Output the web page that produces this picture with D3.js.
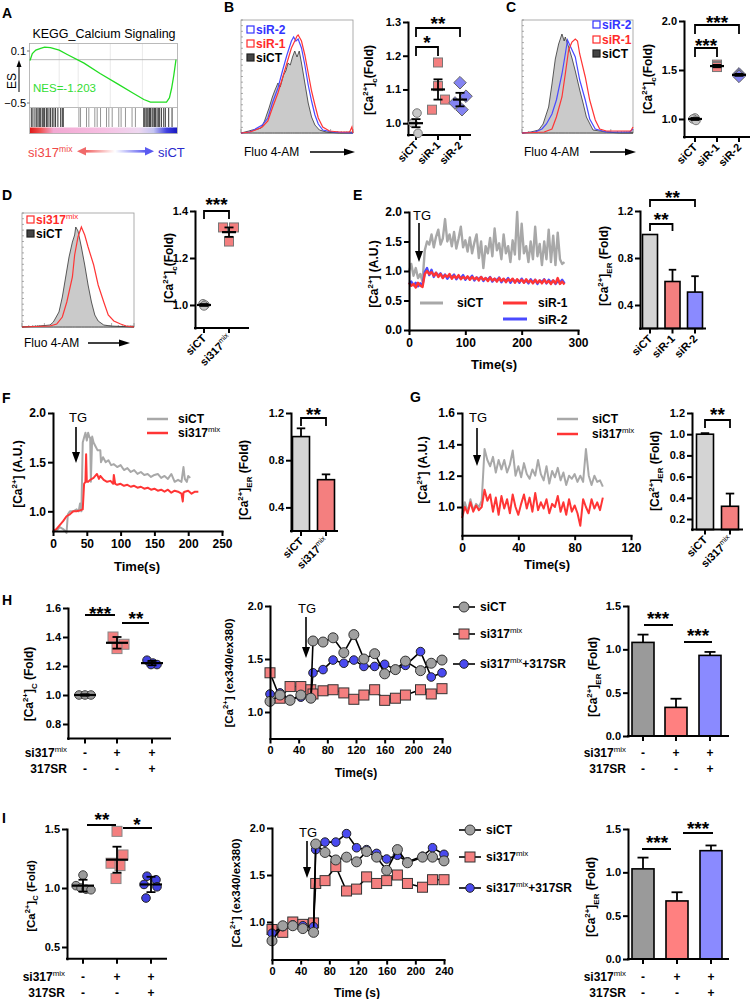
<!DOCTYPE html>
<html><head><meta charset="utf-8">
<script src="https://cdnjs.cloudflare.com/ajax/libs/d3/7.8.5/d3.min.js"></script>
<style>html,body{margin:0;padding:0;background:#fff}</style>
</head><body>
<svg id="fig" width="753" height="999" xmlns="http://www.w3.org/2000/svg"></svg>
<script>
// ===================== DATA =====================
// Panel A (GSEA)
const esRank  = [0,0.016,0.04,0.073,0.1,0.14,0.2,0.255,0.37,0.48,0.6,0.71,0.78,0.825,0.89,0.935,0.955,0.97,0.985,1.0];
const esValue = [-0.01,0.07,0.11,0.13,0.145,0.14,0.11,0.06,-0.04,-0.16,-0.28,-0.39,-0.46,-0.49,-0.49,-0.49,-0.44,-0.33,-0.18,0.0];
const esHits  = [0.009,0.02,0.034,0.046,0.055,0.064,0.073,0.084,0.091,0.1,0.112,0.118,0.13,0.141,0.153,0.164,0.175,0.191,0.21,0.221,0.228,0.335,0.346,0.387,0.403,0.444,0.46,0.483,0.524,0.54,0.563,0.608,0.624,0.654,0.699,0.722,0.779,0.786,0.795,0.802,0.809,0.818,0.825,0.836,0.843,0.852,0.859,0.87,0.879,0.888,0.9,0.916,0.927,0.95,0.973];
const esTicks = [0.1,-0.5];
const nesText = "NES=-1.203";

// Panel B
const histB_siCT = [[0,0],[7,2],[10,3],[15,4],[18,5],[21,12],[25,25],[28,36],[30,42],[33,50],[35,46],[38,58],[40,62],[42,70],[44,68],[46,76],[48,82],[50,76],[52,82],[54,70],[57,50],[60,30],[63,16],[66,8],[70,3],[76,1],[88,0],[100,0]];
const histB_siR1 = [[0,0],[8,1],[13,3],[19,6],[24,12],[28,25],[33,40],[37,55],[41,70],[45,85],[48,92],[50,97],[51,98],[54,92],[57,78],[60,60],[63,42],[66,28],[69,15],[73,6],[79,2],[88,1],[97,1],[99,6],[100,0]];
const histB_siR2 = [[0,0],[8,1],[19,8],[24,15],[28,30],[33,45],[37,62],[41,78],[45,92],[47,96],[49,92],[51,94],[54,85],[57,68],[60,48],[63,32],[66,18],[69,9],[73,3],[82,1],[100,0]];
const catsB = ["siCT","siR-1","siR-2"];
const B_siCT = [1.03,1.0,0.97];
const B_siR1 = [1.18,1.11,1.07,1.04];
const B_siR2 = [1.12,1.08,1.06,1.04];
const B_mean = [1.0,1.10,1.07];
const B_sem  = [0.012,0.03,0.02];

// Panel C
const histC_siCT = [[0,0],[8,1],[15,3],[19,9],[24,26],[27,49],[30,74],[33,89],[36,99],[38,92],[39,96],[42,86],[45,75],[48,62],[52,43],[55,30],[58,16],[64,3],[76,1],[88,0],[100,0]];
const histC_siR1 = [[0,0],[20,1],[27,4],[31,16],[36,36],[39,59],[42,83],[45,91],[48,94],[50,92],[52,79],[57,56],[61,33],[66,13],[70,4],[76,2],[98,2],[100,6]];
const histC_siR2 = [[0,0],[12,1],[18,4],[22,9],[27,19],[31,33],[36,59],[39,79],[41,93],[43,88],[48,76],[52,53],[57,33],[61,14],[66,4],[76,1],[97,1],[100,4]];
const catsC = ["siCT","siR-1","siR-2"];
const C_siCT = [1.01,1.0,0.985];
const C_siR1 = [1.555,1.54,1.53];
const C_siR2 = [1.46,1.45,1.435];
const C_mean = [1.0,1.54,1.45];
const C_sem  = [0.01,0.012,0.01];

// Panel D
const histD_siCT = [[0,0],[16,1],[25,2],[28,5],[33,15],[36,30],[39,50],[42,70],[45,85],[47,92],[48,100],[50,96],[53,80],[56,62],[59,42],[62,25],[65,12],[68,6],[73,2],[79,1],[100,0]];
const histD_mix  = [[0,0],[25,1],[31,3],[36,10],[40,25],[45,50],[47,72],[50,90],[53,100],[56,92],[59,80],[64,62],[68,42],[73,25],[77,12],[82,6],[88,3],[93,1],[100,0]];
const D_siCT = [1.005,1.0,0.996];
const D_mix  = [1.33,1.33,1.27];
const D_mean = [1.0,1.31];
const D_sem  = [0.004,0.02];

// Panel E
const E_time = [0,4,8,12,16,20,24,28,32,36,40,44,48,52,56,60,64,68,72,76,80,84,88,92,96,100,104,108,112,116,120,124,128,132,136,140,144,148,152,156,160,164,168,172,176,180,184,188,192,196,200,204,208,212,216,220,224,228,232,236,240,244,248,252,256,260,264,268,272,276];
const E_siCT = [1.0,1.12,0.92,1.05,0.88,0.95,0.82,1.35,1.5,1.45,1.62,1.4,1.58,1.7,1.45,1.55,1.88,1.5,1.62,1.42,1.66,1.38,1.55,1.75,1.4,1.52,1.33,1.57,1.3,1.48,1.62,1.22,1.5,1.05,1.42,1.3,1.56,1.25,1.72,1.35,1.47,1.2,1.62,1.3,1.42,1.15,1.52,1.28,2.0,1.2,1.8,1.3,1.42,1.15,1.5,1.2,1.75,1.25,1.46,1.1,1.5,1.2,1.7,1.15,1.6,1.1,1.65,1.2,1.12,1.15];
const E_siR1 = [0.8,0.75,0.78,0.72,0.8,0.75,0.73,0.95,1.0,0.95,0.98,0.92,0.97,0.9,0.95,0.88,0.93,0.9,0.95,0.87,0.92,0.88,0.93,0.86,0.9,0.87,0.91,0.85,0.9,0.86,0.89,0.84,0.9,0.85,0.88,0.83,0.89,0.84,0.87,0.82,0.88,0.83,0.87,0.81,0.86,0.83,0.87,0.8,0.86,0.82,0.85,0.8,0.86,0.81,0.84,0.79,0.85,0.8,0.84,0.79,0.85,0.8,0.83,0.78,0.84,0.79,0.88,0.78,0.82,0.77];
const E_siR2 = [0.78,0.82,0.76,0.8,0.74,0.79,0.76,0.98,1.05,0.93,1.02,0.9,0.97,0.92,0.96,0.89,0.94,0.87,0.92,0.9,0.94,0.86,0.91,0.88,0.93,0.85,0.9,0.87,0.92,0.84,0.89,0.86,0.9,0.83,0.88,0.85,0.9,0.82,0.87,0.84,0.89,0.81,0.86,0.83,0.88,0.8,0.86,0.82,0.85,0.8,0.87,0.81,0.84,0.79,0.86,0.8,0.85,0.78,0.84,0.81,0.86,0.79,0.85,0.8,0.84,0.78,0.83,0.8,0.85,0.79];
const catsE = ["siCT","siR-1","siR-2"];
const E_bar = [1.0,0.6,0.51];
const E_err = [0,0.1,0.135];

// Panel F
const F_timeCT = [0,5,10,15,18,20,22,25,30,35,38,40,42,44,46,48,50,52,54,55,56,58,60,63,66,70,71,74,78,82,86,90,95,100,105,110,115,120,125,130,135,140,145,150,155,160,165,170,175,180,185,190,193,195,198,200,203];
const F_siCT   = [0.8,0.8,0.84,0.82,0.8,0.78,0.97,1.0,1.0,1.02,1.0,1.08,1.0,1.7,1.75,1.8,1.72,1.8,1.75,1.75,1.3,1.76,1.7,1.66,1.62,1.62,1.5,1.55,1.5,1.52,1.47,1.48,1.45,1.47,1.42,1.44,1.4,1.42,1.38,1.4,1.37,1.38,1.35,1.37,1.38,1.34,1.36,1.33,1.38,1.3,1.32,1.3,1.45,1.33,1.3,1.36,1.34];
const F_timeMix = [0,5,10,15,20,25,30,35,40,44,46,48,49,50,52,55,60,65,68,70,75,80,85,89,90,92,95,100,105,110,115,120,125,130,135,140,145,150,155,160,165,170,175,180,185,190,192,193,195,200,205,210,215];
const F_mix     = [0.8,0.82,0.86,0.9,0.95,0.97,1.0,1.0,1.01,1.02,1.28,1.3,1.58,1.3,1.3,1.32,1.34,1.38,1.33,1.36,1.32,1.3,1.31,1.28,1.37,1.28,1.27,1.28,1.26,1.27,1.25,1.26,1.24,1.25,1.23,1.24,1.22,1.23,1.21,1.22,1.2,1.22,1.19,1.21,1.2,1.18,1.1,1.19,1.2,1.21,1.18,1.2,1.2];
const catsF = ["siCT","si317mix"];
const F_bar = [1.0,0.635];
const F_err = [0.07,0.045];

// Panel G
const G_time = [0,2,4,6,8,10,12,14,16,18,20,22,24,26,28,30,32,34,36,38,40,42,44,46,48,50,52,54,56,58,60,62,64,66,68,70,72,74,76,78,80,82,84,86,88,90,92,94,96,98,100];
const G_siCT = [0.95,1.03,0.97,1.05,0.98,1.02,1.0,1.04,1.37,1.3,1.26,1.32,1.22,1.3,1.24,1.3,1.22,1.27,1.36,1.2,1.26,1.19,1.28,1.21,1.18,1.24,1.2,1.3,1.21,1.17,1.26,1.15,1.23,1.19,1.25,1.17,1.22,1.14,1.2,1.18,1.21,1.16,1.2,1.16,1.37,1.2,1.14,1.2,1.16,1.17,1.13];
const G_mix  = [0.93,1.0,0.96,1.03,0.97,1.01,0.98,1.0,1.11,1.04,1.08,0.97,1.06,0.95,1.07,0.99,1.05,0.96,1.08,1.0,0.95,1.02,1.08,0.99,1.06,0.97,1.09,0.98,1.03,0.99,1.05,0.96,1.02,1.0,1.07,0.97,1.03,0.95,1.05,0.97,1.01,0.96,0.88,1.05,1.0,0.96,1.05,0.99,1.03,0.98,1.06];
const G_bar = [1.0,0.32];
const G_err = [0.01,0.12];

// Panel H
const rowsSi317 = ["-","+","+"];
const rows317SR = ["-","-","+"];
const H_siCT = [1.0,1.0,1.0];
const H_mix  = [1.40,1.35,1.32];
const H_SR   = [1.24,1.22,1.21,1.21];
const H_mean = [1.0,1.36,1.22];
const H_sd   = [0.005,0.04,0.015];
const H_time = [0,14,28,43,57,60,74,88,103,117,131,146,160,175,189,210,225,240];
const H_lineCT  = [1.10,1.16,1.11,1.16,1.13,1.67,1.66,1.70,1.56,1.73,1.50,1.55,1.36,1.40,1.48,1.39,1.46,1.49];
const H_lineMix = [1.37,1.13,1.24,1.24,1.21,1.17,1.20,1.21,1.18,1.12,1.16,1.21,1.11,1.13,1.16,1.21,1.17,1.22];
const H_lineSR  = [1.17,1.18,1.12,1.14,1.13,1.37,1.40,1.49,1.46,1.49,1.43,1.43,1.45,1.40,1.44,1.57,1.33,1.37];
const H_bar = [1.08,0.33,0.93];
const H_err = [0.09,0.10,0.04];

// Panel I
const I_siCT = [1.11,1.02,1.0,0.99,0.985];
const I_mix  = [1.48,1.28,1.21,1.19,1.08];
const I_SR   = [1.10,1.07,1.03,1.01,0.915];
const I_mean = [1.02,1.24,1.03];
const I_sd   = [0.05,0.11,0.065];
const I_time = [0,15,29,43,58,61,74,89,104,118,132,146,160,175,189,210,224,240];
const I_lineCT  = [0.80,0.96,0.96,0.93,0.89,1.83,1.74,1.66,1.69,1.64,1.75,1.69,1.55,1.77,1.63,1.69,1.69,1.65];
const I_lineMix = [0.92,0.89,1.0,0.975,0.99,1.41,1.44,1.59,1.33,1.35,1.48,1.41,1.44,1.50,1.41,1.37,1.45,1.45];
const I_lineSR  = [0.88,0.95,0.97,0.96,0.95,1.77,1.85,1.85,1.94,1.79,1.77,1.73,1.67,1.71,1.64,1.70,1.79,1.72];
const I_bar = [1.04,0.67,1.25];
const I_err = [0.13,0.10,0.06];

// ===================== STYLE / HELPERS =====================
const FONT = "'Liberation Sans', Arial, Helvetica, sans-serif";
const C_RED = "#f47f7f", C_BLUE = "#8a8aff", C_LGRAY = "#d4d4d4", C_DGRAY = "#9a9a9a";
const T_GRAY = "#a8a8a8", T_RED = "#ff3535", T_BLUE = "#4a4aff";
const svg = d3.select("#fig");
const defs = svg.append("defs");

function rich(t, parts, size) {
  let cur = 0;
  parts.forEach(p => {
    const [s, k, w] = p;
    const target = k === "sup" ? -size * 0.4 : (k === "sub" ? size * 0.3 : 0);
    const ts = t.append("tspan").attr("dy", target - cur).text(s);
    if (k !== "n") ts.attr("font-size", size * 0.66);
    if (w) ts.attr("font-weight", w);
    cur = target;
  });
}
function txt(x, y, s, o = {}) {
  const size = o.size || 11;
  const t = svg.append("text").attr("x", x).attr("y", y).attr("font-family", FONT)
    .attr("font-size", size).attr("font-weight", o.weight || "bold")
    .attr("fill", o.fill || "#000").attr("text-anchor", o.anchor || "start");
  if (o.rotate) t.attr("transform", `rotate(${o.rotate},${x},${y})`);
  if (typeof s === "string") t.text(s); else rich(t, s, size);
  return t;
}
function ln(x1, y1, x2, y2, w = 2, c = "#000") {
  return svg.append("line").attr("x1", x1).attr("y1", y1).attr("x2", x2).attr("y2", y2)
    .attr("stroke", c).attr("stroke-width", w);
}
function styleAx(g, fs) {
  g.select(".domain").attr("stroke", "#000").attr("stroke-width", 2).attr("stroke-linecap", "square");
  g.selectAll(".tick line").attr("stroke", "#000").attr("stroke-width", 2);
  g.selectAll(".tick text").attr("font-family", FONT).attr("font-weight", "bold").attr("font-size", fs).attr("fill", "#000");
}
function yAx(sc, x, ticks, fmt, fs = 11) {
  const g = svg.append("g").attr("transform", `translate(${x},0)`)
    .call(d3.axisLeft(sc).tickValues(ticks).tickFormat(d3.format(fmt)).tickSize(5).tickSizeOuter(0).tickPadding(2));
  styleAx(g, fs);
}
function xAxNum(sc, y, ticks, fs = 12) {
  const g = svg.append("g").attr("transform", `translate(0,${y})`)
    .call(d3.axisBottom(sc).tickValues(ticks).tickFormat(d3.format("d")).tickSize(5).tickSizeOuter(0).tickPadding(3));
  styleAx(g, fs);
}
const mixLabel = (size) => [["si317", "n"], ["mix", "sup", "normal"]];
function catAx(x0, x1, y, xs, labels, fs = 11) {
  ln(x0, y, x1, y, 2).attr("stroke-linecap", "square");
  xs.forEach((x, i) => {
    ln(x, y, x, y + 5, 2);
    if (labels) {
      const lab = labels[i] === "si317mix" ? mixLabel() : labels[i];
      txt(x + 3, y + 11, lab, { anchor: "end", rotate: -45, size: fs });
    }
  });
}
function marks(shape, cx, vals, ysc, offs, st) {
  vals.forEach((v, i) => {
    const x = cx + (offs ? offs[i] : 0), y = ysc(v);
    let el;
    if (shape === "circle") el = svg.append("circle").attr("cx", x).attr("cy", y).attr("r", st.r);
    else if (shape === "square") el = svg.append("rect").attr("x", x - st.s / 2).attr("y", y - st.s / 2).attr("width", st.s).attr("height", st.s);
    else { const h = st.s * 0.7; el = svg.append("path").attr("d", `M${x},${y - h}L${x + h},${y}L${x},${y + h}L${x - h},${y}Z`); }
    el.attr("fill", st.fill).attr("stroke", st.stroke).attr("stroke-width", st.sw || 1);
  });
}
function meanErr(cx, m, e, ysc, hw = 7, cw = 4.5) {
  ln(cx, ysc(m - e), cx, ysc(m + e), 1.8);
  ln(cx - cw, ysc(m + e), cx + cw, ysc(m + e), 1.8);
  ln(cx - cw, ysc(m - e), cx + cw, ysc(m - e), 1.8);
  ln(cx - hw, ysc(m), cx + hw, ysc(m), 2.2);
}
function bars(xs, vals, errs, ysc, w, fills) {
  const y0 = ysc.range()[0];
  vals.forEach((v, i) => {
    if (errs[i] > 0) {
      ln(xs[i], ysc(v), xs[i], ysc(v + errs[i]), 1.8);
      ln(xs[i] - w * 0.25, ysc(v + errs[i]), xs[i] + w * 0.25, ysc(v + errs[i]), 1.8);
    }
    svg.append("rect").attr("x", xs[i] - w / 2).attr("y", ysc(v)).attr("width", w).attr("height", y0 - ysc(v))
      .attr("fill", fills[i]).attr("stroke", "#000").attr("stroke-width", 1.6);
  });
}
function bracket(x1, x2, y, drop) {
  svg.append("path").attr("d", `M${x1},${y + drop}V${y}H${x2}V${y + drop}`)
    .attr("fill", "none").attr("stroke", "#000").attr("stroke-width", 1.8);
}
function stars(cx, cy, s, size = 19) {
  txt(cx, cy + size * 0.56, s, { anchor: "middle", size: size });
}
function trace(ts, vs, xs, ys, color, w) {
  const n = Math.min(ts.length, vs.length);
  const pts = d3.range(n).map(i => [xs(ts[i]), ys(vs[i])]);
  svg.append("path").attr("d", d3.line()(pts)).attr("fill", "none").attr("stroke", color)
    .attr("stroke-width", w).attr("stroke-linejoin", "round");
}
function downArrow(x, y1, y2) {
  ln(x, y1, x, y2 - 9, 1.6);
  svg.append("path").attr("d", `M${x - 4},${y2 - 11}L${x + 4},${y2 - 11}L${x},${y2}Z`).attr("fill", "#000");
}
function rightArrow(x1, x2, y) {
  ln(x1, y, x2 - 9, y, 1.5);
  svg.append("path").attr("d", `M${x2 - 11},${y - 3.5}L${x2 - 11},${y + 3.5}L${x2},${y}Z`).attr("fill", "#000");
}
function histBox(x0, y0, x1, y1) {
  svg.append("rect").attr("x", x0).attr("y", y0).attr("width", x1 - x0).attr("height", y1 - y0)
    .attr("fill", "none").attr("stroke", "#999").attr("stroke-width", 0.8);
  const ly = d3.scaleLinear().domain([0, 1]).range([y1, y0]);
  ly.ticks(20).forEach(t => ln(x0, ly(t), x0 + 2, ly(t), 0.6, "#777"));
  const lx = d3.scaleLog().domain([1, 1e5]).range([x0, x1]);
  lx.ticks().forEach(t => {
    const major = Math.abs(Math.log10(t) - Math.round(Math.log10(t))) < 1e-9;
    ln(lx(t), y1, lx(t), y1 - (major ? 4 : 2), 0.6, "#777");
  });
}
function histArea(pairs, xs, bottom) {
  svg.append("path").datum(pairs)
    .attr("d", d3.area().x(d => xs(d[0])).y0(bottom).y1(d => bottom - d[1]))
    .attr("fill", "#cacaca").attr("stroke", "#333").attr("stroke-width", 0.8);
}
function histLine(pairs, xs, bottom, color) {
  svg.append("path").datum(pairs)
    .attr("d", d3.line().x(d => xs(d[0])).y(d => bottom - d[1]))
    .attr("fill", "none").attr("stroke", color).attr("stroke-width", 1.2);
}
function histLegend(x, y, label, color, filled) {
  svg.append("rect").attr("x", x).attr("y", y - 8).attr("width", 7).attr("height", 7)
    .attr("fill", filled ? "#444" : "#fff").attr("stroke", filled ? "#222" : color).attr("stroke-width", 1.2);
  txt(x + 9, y, label, { size: 12, fill: color });
}
function panelLabel(x, y, s) { txt(x, y, s, { size: 14 }); }
const caLabel = (sub) => [["[Ca", "n"], ["2+", "sup"], ["]", "n"], [sub, "sub"], [sub === "c" ? "(Fold)" : " (Fold)", "n"]];

// ===================== PANEL A =====================
panelLabel(2, 18, "A");
{
  const x = d3.scaleLinear().domain([0, 1]).range([30, 176]);
  const y = d3.scaleLinear().domain([-0.5, 0.1]).range([103, 51]);
  txt(104, 38, "KEGG_Calcium Signaling", { anchor: "middle", weight: "normal", size: 12.5 });
  [0.2, 0.33, 0.55, 0.77].forEach(f => ln(x(f), 43.5, x(f), 107, 0.8, "#e4e4e4"));
  ln(29.5, y(0), 177.5, y(0), 0.8, "#aaa");
  const grad = defs.append("linearGradient").attr("id", "gA");
  [[0, "#e01818"], [0.07, "#f05050"], [0.16, "#f2a8d2"], [0.5, "#f6bfe2"], [0.74, "#eed8f0"], [0.84, "#c4c4f2"], [0.93, "#4040e0"], [1, "#1818c0"]]
    .forEach(s => grad.append("stop").attr("offset", s[0]).attr("stop-color", s[1]));
  svg.append("rect").attr("x", 30).attr("y", 127.5).attr("width", 147).attr("height", 6).attr("fill", "url(#gA)");
  esHits.forEach(p => ln(x(p), 108, x(p), 127, 0.9, (p > 0.25 && p < 0.76) ? "#8a8a8a" : "#222"));
  svg.append("rect").attr("x", 29.5).attr("y", 43.5).attr("width", 148).attr("height", 90)
    .attr("fill", "none").attr("stroke", "#aaa").attr("stroke-width", 0.8);
  ln(29.5, 107.5, 177.5, 107.5, 0.8, "#aaa");
  const pts = esRank.map((r, i) => [x(r), y(esValue[i])]);
  svg.append("path").attr("d", d3.line()(pts)).attr("fill", "none").attr("stroke", "#22dd22").attr("stroke-width", 1.3);
  esTicks.forEach(t => { txt(26, y(t) + 4, d3.format(".1f")(t), { anchor: "end", weight: "normal", size: 11 }); ln(27, y(t), 29.5, y(t), 0.8, "#555"); });
  txt(15.5, 81, "ES", { anchor: "middle", rotate: -90, weight: "normal", size: 12 });
  ln(19, 92, 19, 66, 1, "#000");
  svg.append("path").attr("d", "M16.5,67L21.5,67L19,60Z").attr("fill", "#000");
  txt(33, 92, nesText, { weight: "normal", size: 11.5, fill: "#33dd33" });
  txt(28, 157, [["si317", "n"], ["mix", "sup"]], { weight: "normal", size: 13, fill: "#f04848" });
  const g2 = defs.append("linearGradient").attr("id", "gArr");
  [[0, "#f05a5a"], [0.5, "#ffffff"], [1, "#5a5af0"]].forEach(s => g2.append("stop").attr("offset", s[0]).attr("stop-color", s[1]));
  svg.append("rect").attr("x", 84).attr("y", 150).attr("width", 62).attr("height", 2.6).attr("fill", "url(#gArr)");
  svg.append("path").attr("d", "M77,151.3L86,147L86,155.6Z").attr("fill", "#f06a6a");
  svg.append("path").attr("d", "M154,151.3L145,147L145,155.6Z").attr("fill", "#5a5af0");
  txt(158, 157, "siCT", { weight: "normal", size: 13, fill: "#2a2acc" });
}

// ===================== PANEL B =====================
panelLabel(224, 12, "B");
{
  const hx = d3.scaleLinear().domain([0, 100]).range([241, 353]);
  histBox(241, 20, 353, 133);
  histArea(histB_siCT, hx, 133);
  histLine(histB_siR2, hx, 133, T_BLUE);
  histLine(histB_siR1, hx, 133, T_RED);
  histLegend(247, 34, "siR-2", "#3333ff", false);
  histLegend(247, 48, "siR-1", "#ff2a2a", false);
  histLegend(247, 62, "siCT", "#000", true);
  txt(244, 156, "Fluo 4-AM", { weight: "normal", size: 12 });
  rightArrow(310, 355, 152);

  const y = d3.scaleLinear().domain([0.965, 1.3]).range([135, 22]);
  const x = d3.scalePoint().domain(catsB).range([416, 460]);
  yAx(y, 408, [1.0, 1.1, 1.2, 1.3], ".1f");
  catAx(408, 470, 135, catsB.map(x), catsB);
  txt(373, 80, caLabel("c"), { anchor: "middle", rotate: -90, size: 12 });
  marks("circle", x("siCT"), B_siCT, y, [1, -3, 2], { r: 4.3, fill: "#c8c8c8", stroke: "#777" });
  marks("square", x("siR-1"), B_siR1, y, [0, 0, 7, -6], { s: 9, fill: C_RED, stroke: "#777" });
  marks("diamond", x("siR-2"), B_siR2, y, [0, 6, -5, 2], { s: 9, fill: "#8484f2", stroke: "#666" });
  catsB.forEach((c, i) => meanErr(x(c), B_mean[i], B_sem[i], y));
  bracket(x("siCT"), x("siR-1"), 47, 9);
  stars((x("siCT") + x("siR-1")) / 2, 38, "*");
  bracket(x("siCT"), x("siR-2"), 28, 9);
  stars((x("siCT") + x("siR-2")) / 2, 19, "**");
}

// ===================== PANEL C =====================
panelLabel(506, 12, "C");
{
  const hx = d3.scaleLinear().domain([0, 100]).range([522, 633]);
  histBox(522, 20, 633, 133);
  histArea(histC_siCT, hx, 133);
  histLine(histC_siR2, hx, 133, T_BLUE);
  histLine(histC_siR1, hx, 133, T_RED);
  histLegend(593, 29, "siR-2", "#3333ff", false);
  histLegend(593, 44, "siR-1", "#ff2a2a", false);
  histLegend(593, 58, "siCT", "#000", true);
  txt(524, 156, "Fluo 4-AM", { weight: "normal", size: 12 });
  rightArrow(590, 636, 152);

  const y = d3.scaleLinear().domain([0.816, 2.0]).range([137, 21]);
  const x = d3.scalePoint().domain(catsC).range([695, 739]);
  yAx(y, 684, [1.0, 1.5, 2.0], ".1f");
  catAx(684, 749, 137, catsC.map(x), catsC);
  txt(652, 79, caLabel("c"), { anchor: "middle", rotate: -90, size: 12 });
  marks("circle", x("siCT"), C_siCT, y, [0, -2, 1], { r: 4.3, fill: "#c8c8c8", stroke: "#777" });
  marks("square", x("siR-1"), C_siR1, y, [0, 0, 0], { s: 9, fill: C_RED, stroke: "#777" });
  marks("diamond", x("siR-2"), C_siR2, y, [0, 0, 0], { s: 9, fill: "#8484f2", stroke: "#666" });
  catsC.forEach((c, i) => meanErr(x(c), C_mean[i], C_sem[i], y));
  bracket(x("siCT"), x("siR-1"), 48, 9);
  stars((x("siCT") + x("siR-1")) / 2, 41, "***");
  bracket(x("siCT"), x("siR-2"), 25, 9);
  stars((x("siCT") + x("siR-2")) / 2, 18, "***");
}

// ===================== PANEL D =====================
panelLabel(2, 200, "D");
{
  const hx = d3.scaleLinear().domain([0, 100]).range([22, 134]);
  histBox(22, 213, 134, 327);
  histArea(histD_siCT, hx, 327);
  histLine(histD_mix, hx, 327, T_RED);
  svg.append("rect").attr("x", 27).attr("y", 216).attr("width", 7).attr("height", 7).attr("fill", "#fff").attr("stroke", "#ff2a2a").attr("stroke-width", 1.2);
  txt(36, 224, [["si317", "n"], ["mix", "sup", "normal"]], { size: 12, fill: "#ff2a2a" });
  histLegend(27, 238, "siCT", "#000", true);
  txt(24, 347, "Fluo 4-AM", { weight: "normal", size: 12 });
  rightArrow(88, 130, 343);

  const cats = ["siCT", "si317mix"];
  const y = d3.scaleLinear().domain([0.902, 1.4]).range([328, 211]);
  const x = d3.scalePoint().domain(cats).range([204, 229]);
  yAx(y, 195, [1.0, 1.2, 1.4], ".1f");
  catAx(195, 248, 328, cats.map(x), cats);
  txt(173, 268, caLabel("c"), { anchor: "middle", rotate: -90, size: 12 });
  marks("circle", x("siCT"), D_siCT, y, [-1, 1, 0], { r: 4.3, fill: "#c8c8c8", stroke: "#777" });
  marks("square", x("si317mix"), D_mix, y, [-6, 5, 0], { s: 9, fill: C_RED, stroke: "#777" });
  cats.forEach((c, i) => meanErr(x(c), D_mean[i], D_sem[i], y));
  bracket(x("siCT"), x("si317mix"), 211, 8);
  stars((x("siCT") + x("si317mix")) / 2, 200, "***");
}

// ===================== PANEL E =====================
panelLabel(353, 200, "E");
{
  const x = d3.scaleLinear().domain([0, 300]).range([409, 578]);
  const y = d3.scaleLinear().domain([0, 2]).range([330, 212]);
  trace(E_time, E_siCT, x, y, T_GRAY, 2.4);
  trace(E_time, E_siR2, x, y, T_BLUE, 2.4);
  trace(E_time, E_siR1, x, y, T_RED, 2.4);
  yAx(y, 409, [0, 0.5, 1.0, 1.5, 2.0], ".1f", 12);
  xAxNum(x, 330, [0, 100, 200, 300], 12);
  txt(494, 369, "Time(s)", { anchor: "middle", size: 13 });
  txt(378, 274, [["[Ca", "n"], ["2+", "sup"], ["] (A.U.)", "n"]], { anchor: "middle", rotate: -90, size: 12 });
  txt(413, 220, "TG", { weight: "normal", size: 13 });
  downArrow(419, 223, 262);
  ln(420, 303, 443, 303, 3, T_GRAY); txt(457, 307, "siCT", { size: 12 });
  ln(503, 303, 527, 303, 3, T_RED); txt(538, 307, "siR-1", { size: 12 });
  ln(503, 319, 527, 319, 3, T_BLUE); txt(538, 324, "siR-2", { size: 12 });

  const yb = d3.scaleLinear().domain([0.2, 1.2]).range([328.5, 211]);
  const xb = d3.scalePoint().domain(catsE).range([650, 695]);
  bars(catsE.map(xb), E_bar, E_err, yb, 15, [C_LGRAY, C_RED, C_BLUE]);
  yAx(yb, 640, [0.4, 0.8, 1.2], ".1f");
  catAx(640, 705, 328.5, catsE.map(xb), catsE);
  txt(608, 266, [["[Ca", "n"], ["2+", "sup"], ["]", "n"], ["ER", "sub"], [" (Fold)", "n"]], { anchor: "middle", rotate: -90, size: 12 });
  bracket(xb("siCT"), xb("siR-1"), 224, 7);
  stars((xb("siCT") + xb("siR-1")) / 2, 215, "**");
  bracket(xb("siCT"), xb("siR-2"), 200, 7);
  stars((xb("siCT") + xb("siR-2")) / 2, 193, "**");
}

// ===================== PANEL F =====================
panelLabel(2, 403, "F");
{
  const x = d3.scaleLinear().domain([0, 250]).range([53, 222]);
  const y = d3.scaleLinear().domain([0.8, 2.0]).range([531, 413]);
  trace(F_timeCT, F_siCT, x, y, T_GRAY, 2);
  trace(F_timeMix, F_mix, x, y, T_RED, 2);
  yAx(y, 53, [1.0, 1.5, 2.0], ".1f", 12);
  xAxNum(x, 531, [0, 50, 100, 150, 200, 250], 12);
  txt(137, 571, "Time(s)", { anchor: "middle", size: 13 });
  txt(22, 474, [["[Ca", "n"], ["2+", "sup"], ["] (A.U.)", "n"]], { anchor: "middle", rotate: -90, size: 12 });
  txt(69, 422, "TG", { weight: "normal", size: 13 });
  downArrow(76, 427, 463);
  ln(147, 419, 168, 419, 2.5, T_GRAY); txt(178, 423, "siCT", { size: 12 });
  ln(147, 433, 168, 433, 2.5, T_RED); txt(178, 437, mixLabel(), { size: 12 });

  const yb = d3.scaleLinear().domain([0.2, 1.2]).range([531, 413]);
  const xb = d3.scalePoint().domain(catsF).range([301, 326]);
  bars(catsF.map(xb), F_bar, F_err, yb, 17, [C_LGRAY, C_RED]);
  yAx(yb, 291, [0.4, 0.8, 1.2], ".1f");
  catAx(291, 337, 531, catsF.map(xb), catsF);
  txt(248, 480, [["[Ca", "n"], ["2+", "sup"], ["]", "n"], ["ER", "sub"], [" (Fold)", "n"]], { anchor: "middle", rotate: -90, size: 12 });
  bracket(xb("siCT"), xb("si317mix"), 418, 8);
  stars((xb("siCT") + xb("si317mix")) / 2, 410, "**");
}

// ===================== PANEL G =====================
panelLabel(410, 402, "G");
{
  const x = d3.scaleLinear().domain([0, 120]).range([462, 631]);
  const y = d3.scaleLinear().domain([0.82, 1.6]).range([535.2, 413]);
  trace(G_time, G_siCT, x, y, T_GRAY, 2);
  trace(G_time, G_mix, x, y, T_RED, 2);
  yAx(y, 462, [1.0, 1.2, 1.4, 1.6], ".1f", 12);
  xAxNum(x, 535.2, [0, 40, 80, 120], 12);
  txt(547, 569, "Time(s)", { anchor: "middle", size: 13 });
  txt(427, 470, [["[Ca", "n"], ["2+", "sup"], ["] (A.U.)", "n"]], { anchor: "middle", rotate: -90, size: 12 });
  txt(469, 422, "TG", { weight: "normal", size: 13 });
  downArrow(477, 428, 466);
  ln(557, 419, 578, 419, 2.5, T_GRAY); txt(592, 423, "siCT", { size: 12 });
  ln(557, 434, 578, 434, 2.5, T_RED); txt(592, 438, mixLabel(), { size: 12 });

  const yb = d3.scaleLinear().domain([0.1, 1.2]).range([529.6, 413]);
  const xb = d3.scalePoint().domain(catsF).range([705, 730]);
  bars(catsF.map(xb), G_bar, G_err, yb, 17, [C_LGRAY, C_RED]);
  yAx(yb, 692, [0.2, 0.4, 0.6, 0.8, 1.0, 1.2], ".1f");
  catAx(692, 742, 529.6, catsF.map(xb), catsF);
  txt(659, 471, [["[Ca", "n"], ["2+", "sup"], ["]", "n"], ["ER", "sub"], [" (Fold)", "n"]], { anchor: "middle", rotate: -90, size: 12 });
  bracket(xb("siCT"), xb("si317mix"), 420, 8);
  stars((xb("siCT") + xb("si317mix")) / 2, 410, "**");
}

// ===================== ROW HELPERS (H, I) =====================
function signRows(xs, labelX, y1, y2) {
  txt(labelX, y1, mixLabel(), { anchor: "end", size: 12 });
  txt(labelX, y2, "317SR", { anchor: "end", size: 12 });
  xs.forEach((x, i) => { txt(x, y1, rowsSi317[i], { anchor: "middle", size: 12 }); txt(x, y2, rows317SR[i], { anchor: "middle", size: 12 }); });
}
function legendMarker(x, y, shape, st, label) {
  ln(x - 11, y, x + 11, y, 1.6);
  marks(shape, x, [0], () => y, null, st);
  txt(x + 16, y + 4, label, { size: 12 });
}
const ST_CT = { r: 5, fill: "#a0a0a0", stroke: "#333", sw: 1 };
const ST_MIX = { s: 10, fill: C_RED, stroke: "#333", sw: 1 };
const ST_SR = { r: 4.3, fill: "#4a4af0", stroke: "#222", sw: 1 };
const lineSeries = (ts, vs, xs, ys, shape, st) => {
  trace(ts, vs, xs, ys, "#000", 1.6);
  vs.forEach((v, i) => marks(shape, xs(ts[i]), [v], ys, null, st));
};

// ===================== PANEL H =====================
panelLabel(2, 605, "H");
{
  const xs = [85, 117, 152];
  const y = d3.scaleLinear().domain([0.7, 1.6]).range([738.5, 608]);
  yAx(y, 68, [0.8, 1.0, 1.2, 1.4, 1.6], ".1f");
  catAx(68, 170, 738.5, xs, null);
  txt(33, 684, [["[Ca", "n"], ["2+", "sup"], ["]", "n"], ["C", "sub"], [" (Fold)", "n"]], { anchor: "middle", rotate: -90, size: 12 });
  marks("circle", xs[0], H_siCT, y, [-6, 0, 6], { r: 4.3, fill: "#9a9a9a", stroke: "#444" });
  marks("square", xs[1], H_mix, y, [-4, 7, 0], { s: 10, fill: C_RED, stroke: "#888" });
  marks("circle", xs[2], H_SR, y, [-5, 1, 5, -1], { r: 4.3, fill: "#4040e0", stroke: "#222" });
  xs.forEach((cx, i) => meanErr(cx, H_mean[i], H_sd[i], y, 11, 4.5));
  ln(85, 615, 115, 615, 2); stars(100, 609, "***");
  ln(122, 623, 149, 623, 2); stars(136, 614, "**");
  signRows(xs, 67, 757, 773);

  const x = d3.scaleLinear().domain([0, 240]).range([270, 442]);
  const yl = d3.scaleLinear().domain([0.75, 2.0]).range([738.5, 606]);
  lineSeries(H_time, H_lineMix, x, yl, "square", ST_MIX);
  lineSeries(H_time, H_lineSR, x, yl, "circle", ST_SR);
  lineSeries(H_time, H_lineCT, x, yl, "circle", ST_CT);
  yAx(yl, 270, [1.0, 1.5, 2.0], ".1f");
  xAxNum(x, 738.5, [0, 40, 80, 120, 160, 200, 240], 11);
  txt(356, 777, "Time(s)", { anchor: "middle", size: 12 });
  txt(233, 673, [["[Ca", "n"], ["2+", "sup"], ["] (ex340/ex380)", "n"]], { anchor: "middle", rotate: -90, size: 11.5 });
  txt(298, 613, "TG", { weight: "normal", size: 13 });
  downArrow(306, 617, 658);
  legendMarker(464, 607, "circle", ST_CT, "siCT");
  legendMarker(464, 634, "square", ST_MIX, mixLabel());
  legendMarker(464, 664, "circle", ST_SR, [["si317", "n"], ["mix", "sup", "normal"], ["+317SR", "n"]]);

  const xb = [643, 676, 710];
  const yb = d3.scaleLinear().domain([0, 1.5]).range([736, 606]);
  bars(xb, H_bar, H_err, yb, 22, [C_DGRAY, "#ff8080", C_BLUE]);
  yAx(yb, 628, [0, 0.5, 1.0, 1.5], ".1f");
  catAx(628, 728, 736, xb, null);
  txt(597, 677, [["[Ca", "n"], ["2+", "sup"], ["]", "n"], ["ER", "sub"], [" (Fold)", "n"]], { anchor: "middle", rotate: -90, size: 12 });
  ln(644, 625, 673, 625, 2); stars(658, 614, "***");
  ln(684, 642, 712, 642, 2); stars(698, 631, "***");
  signRows(xb, 626, 757, 773);
}

// ===================== PANEL I =====================
panelLabel(2, 823, "I");
{
  const xs = [83, 117, 151];
  const y = d3.scaleLinear().domain([0.4, 1.5]).range([958.8, 829]);
  yAx(y, 67, [0.5, 1.0, 1.5], ".1f");
  catAx(67, 166, 958.8, xs, null);
  txt(35, 896, [["[Ca", "n"], ["2+", "sup"], ["]", "n"], ["C", "sub"], [" (Fold)", "n"]], { anchor: "middle", rotate: -90, size: 11.5 });
  marks("circle", xs[0], I_siCT, y, [0, -7, -2, 3, 8], { r: 4.3, fill: "#9a9a9a", stroke: "#444" });
  marks("square", xs[1], I_mix, y, [0, 6, -6, 3, -1], { s: 10, fill: C_RED, stroke: "#888" });
  marks("circle", xs[2], I_SR, y, [-4, 5, -7, 6, -5], { r: 4.3, fill: "#4040e0", stroke: "#222" });
  xs.forEach((cx, i) => meanErr(cx, I_mean[i], I_sd[i], y, 11, 4.5));
  ln(87, 825, 116, 825, 2); stars(102, 815, "**");
  ln(123, 828, 152, 828, 2); stars(137, 820, "*");
  signRows(xs, 65, 981, 997);

  const x = d3.scaleLinear().domain([0, 240]).range([272, 444]);
  const yl = d3.scaleLinear().domain([0.6, 2.0]).range([959.6, 828]);
  lineSeries(I_time, I_lineMix, x, yl, "square", ST_MIX);
  lineSeries(I_time, I_lineSR, x, yl, "circle", ST_SR);
  lineSeries(I_time, I_lineCT, x, yl, "circle", ST_CT);
  yAx(yl, 272, [1.0, 1.5, 2.0], ".1f");
  xAxNum(x, 959.6, [0, 40, 80, 120, 160, 200, 240], 11);
  txt(357, 997, "Time (s)", { anchor: "middle", size: 12 });
  txt(240, 893, [["[Ca", "n"], ["2+", "sup"], ["] (ex340/ex380)", "n"]], { anchor: "middle", rotate: -90, size: 11.5 });
  txt(299, 837, "TG", { weight: "normal", size: 13 });
  downArrow(307, 841, 878);
  legendMarker(470, 830, "circle", ST_CT, "siCT");
  legendMarker(470, 857, "square", ST_MIX, mixLabel());
  legendMarker(470, 888, "circle", ST_SR, [["si317", "n"], ["mix", "sup", "normal"], ["+317SR", "n"]]);

  const xb = [643, 677, 711];
  const yb = d3.scaleLinear().domain([0, 1.5]).range([959, 829]);
  bars(xb, I_bar, I_err, yb, 22, [C_DGRAY, "#ff8080", C_BLUE]);
  yAx(yb, 628, [0, 0.5, 1.0, 1.5], ".1f");
  catAx(628, 728, 959, xb, null);
  txt(595, 897, [["[Ca", "n"], ["2+", "sup"], ["]", "n"], ["ER", "sub"], [" (Fold)", "n"]], { anchor: "middle", rotate: -90, size: 12 });
  ln(642, 849, 671, 849, 2); stars(657, 838, "***");
  ln(683, 833, 713, 833, 2); stars(698, 824, "***");
  signRows(xb, 626, 981, 997);
}
</script></body></html>
